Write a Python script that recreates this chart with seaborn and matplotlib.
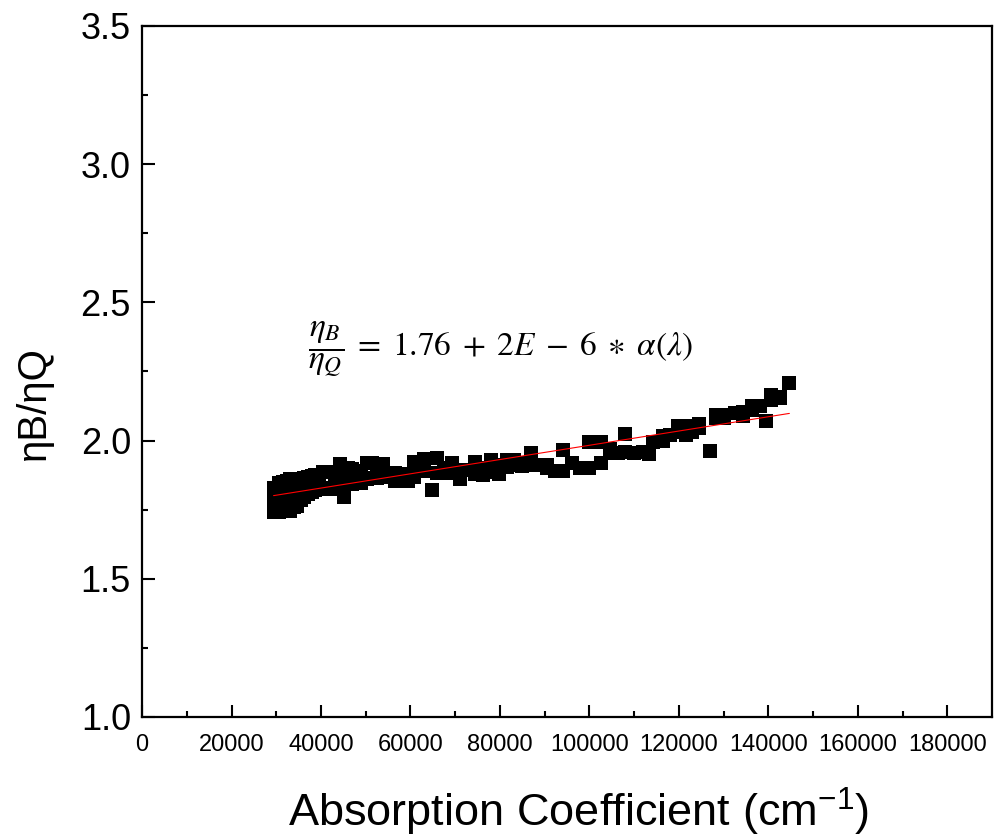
import numpy as np
import pandas as pd
import matplotlib
matplotlib.use("Agg")
import matplotlib.pyplot as plt
import seaborn as sns

# ---- data ----
absorption = [
    29400, 29400, 29400, 29400, 29400,
    30000, 30000, 30000,
    30700, 30700, 30700,
    31500, 31500, 31500,
    32300, 32300, 32300,
    33100, 33100, 33100,
    33900, 33900, 33900,
    34700, 34700, 34700,
    35500, 35500, 35500,
    36300, 36300, 37100, 37100, 37900, 37900, 38700, 38700,
    39600, 39600, 40500, 40500, 41400, 41400, 42300, 42300,
    43200, 43200, 44300, 44300, 45200, 45200, 46100, 46100,
    47000, 47000, 48000, 48000, 49000, 49000,
    50200, 50200, 51400, 51400, 52600, 52600, 53800, 53800,
    55200, 55200, 56600, 56600, 58000, 58000, 59400, 59400,
    60700, 60700, 61700, 63000, 63000, 64800, 66000, 66000,
    67500, 67500, 69300, 69300, 71000, 71000, 72800,
    74500, 74500, 76300, 76300, 78000, 78000, 79800, 79800,
    81500, 81500, 83200, 83200, 85000, 85000, 87000, 87000,
    88700, 90500, 90500, 92200, 94000, 94000, 96000, 98000,
    100000, 100000, 102500, 102500, 104500, 104500, 106500,
    108000, 108000, 110000, 112000, 113300, 114200,
    116500, 116500, 118000, 119700, 119700, 121500, 121500,
    123000, 123000, 124500, 124500, 127000,
    128200, 128200, 130200, 130200, 132500, 134300, 134300,
    136300, 136300, 138200, 139500, 140700, 140700,
    142700, 142700, 144700,
]
ratio = [
    1.74, 1.76, 1.79, 1.81, 1.83,
    1.75, 1.78, 1.82,
    1.74, 1.80, 1.845,
    1.745, 1.78, 1.85,
    1.75, 1.81, 1.855,
    1.745, 1.82, 1.86,
    1.76, 1.83, 1.86,
    1.765, 1.84, 1.862,
    1.785, 1.85, 1.862,
    1.795, 1.865, 1.805, 1.868, 1.814, 1.872, 1.82, 1.875,
    1.824, 1.872, 1.825, 1.885, 1.826, 1.885, 1.83, 1.888,
    1.826, 1.87, 1.914, 1.86, 1.797, 1.88, 1.842, 1.90,
    1.842, 1.896, 1.848, 1.89, 1.845, 1.87,
    1.918, 1.86, 1.918, 1.866, 1.91, 1.866, 1.915, 1.87,
    1.88, 1.87, 1.882, 1.855, 1.88, 1.86, 1.872, 1.854,
    1.924, 1.87, 1.90, 1.932, 1.89, 1.821, 1.938, 1.884,
    1.90, 1.884, 1.92, 1.884, 1.895, 1.86, 1.895,
    1.924, 1.88, 1.90, 1.874, 1.928, 1.885, 1.91, 1.88,
    1.93, 1.905, 1.93, 1.91, 1.92, 1.907, 1.956, 1.91,
    1.91, 1.91, 1.90, 1.89, 1.966, 1.89, 1.92, 1.902,
    1.996, 1.902, 1.996, 1.92, 1.956, 1.97, 1.956,
    2.024, 1.96, 1.956, 1.96, 1.950, 1.996,
    2.017, 1.999, 2.02, 2.053, 2.03, 2.04, 2.02,
    2.051, 2.03, 2.060, 2.047, 1.964,
    2.093, 2.083, 2.093, 2.083, 2.10, 2.105, 2.09,
    2.126, 2.11, 2.126, 2.072, 2.166, 2.147,
    2.157, 2.155, 2.210,
]
fit_intercept = 1.725
fit_slope = 2.58e-6
fit_x = [29400, 144700]

x_ticks = [0, 20000, 40000, 60000, 80000, 100000, 120000, 140000, 160000, 180000]
y_ticks = [1.0, 1.5, 2.0, 2.5, 3.0, 3.5]

df = pd.DataFrame({"absorption": absorption, "ratio": ratio})
fit_df = pd.DataFrame({"x": fit_x,
                       "y": [fit_intercept + fit_slope * v for v in fit_x]})

sns.set_style("white")
plt.rcParams["font.family"] = ["Liberation Sans", "DejaVu Sans"]
plt.rcParams["mathtext.fontset"] = "custom"
plt.rcParams["mathtext.rm"] = "Liberation Sans"
plt.rcParams["mathtext.it"] = "Liberation Sans:italic"
plt.rcParams["text.color"] = "black"
plt.rcParams["axes.labelcolor"] = "black"

fig = plt.figure(figsize=(9.94, 8.38), dpi=100)
ax = fig.add_axes([0.1429, 0.1444, 0.998 - 0.1429, 0.969 - 0.1444])

sns.scatterplot(data=df, x="absorption", y="ratio", marker="s", s=100,
                color="black", edgecolor="black", linewidth=0, ax=ax,
                zorder=2)
sns.lineplot(data=fit_df, x="x", y="y", color="red", linewidth=0.8, ax=ax,
             zorder=3)

ax.set_xlim(0, 190000)
ax.set_ylim(1.0, 3.5)
ax.set_xticks(x_ticks)
ax.set_xticklabels([str(t) for t in x_ticks], fontsize=17)
ax.set_yticks(y_ticks)
ax.set_yticklabels([f"{t:.1f}" for t in y_ticks], fontsize=26)
ax.set_xticks(np.arange(10000, 190000, 20000), minor=True)
ax.set_yticks(np.arange(1.25, 3.5, 0.5), minor=True)
ax.tick_params(which="major", direction="in", length=9, width=1.5,
               colors="black", labelcolor="black")
ax.tick_params(which="minor", direction="in", length=4, width=1.5,
               colors="black")
ax.tick_params(axis="x", which="major", pad=12)
ax.tick_params(axis="y", which="major", pad=8)
ax.tick_params(axis="x", which="both", bottom=True, top=False)
ax.tick_params(axis="y", which="both", left=True, right=False)

for sp in ax.spines.values():
    sp.set_visible(True)
    sp.set_linewidth(1.6)
    sp.set_color("black")

ax.set_xlabel("Absorption Coefficient (cm$^{-1}$)", fontsize=32.5,
              color="black")
ax.set_ylabel("ηB/ηQ", fontsize=29, color="black")
ax.xaxis.set_label_coords(0.5135, -0.10)
ax.yaxis.set_label_coords(-0.105, 0.455)

ax.text(37000, 2.33,
        r"$\dfrac{\eta_B}{\eta_Q} \;=\; 1.76 \;+\; 2E \;-\; 6 \;\ast\; \alpha(\lambda)$",
        fontsize=24, math_fontfamily="stix", va="center", ha="left",
        color="black")

fig.savefig("out.png", dpi=100)
